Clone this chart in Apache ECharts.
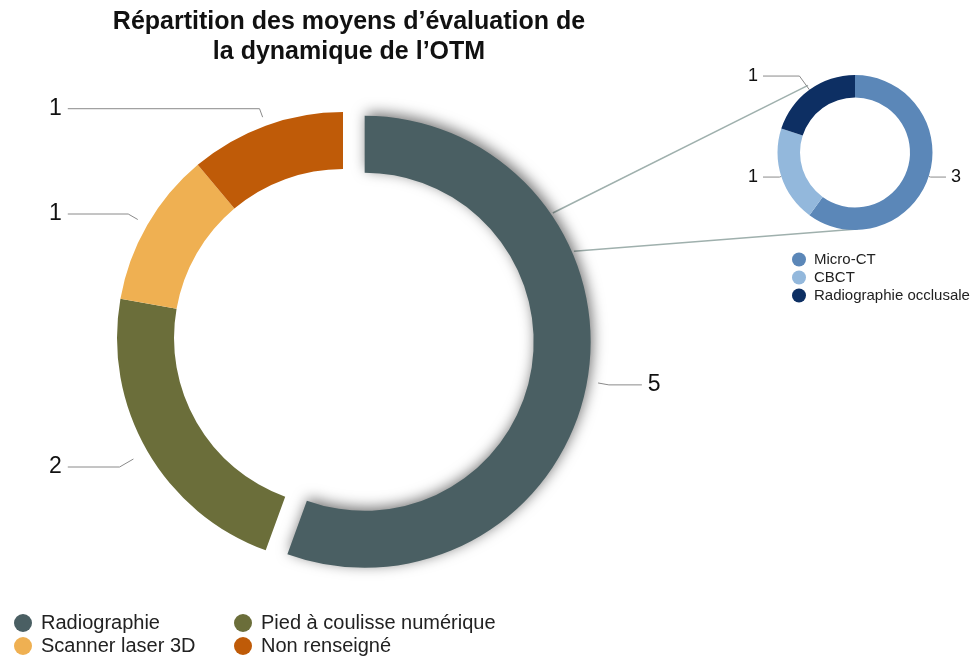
<!DOCTYPE html>
<html>
<head>
<meta charset="utf-8">
<script src="https://cdn.jsdelivr.net/npm/echarts@6/dist/echarts.min.js"></script>
<style>
	html, body { margin: 0; padding: 0; background: #fff; }
	#chart { width: 977px; height: 659px; }
</style>
</head>
<body>
<div id="chart"></div>
<script>
	// données du graphique principal
	const mainNames = ['Radiographie', 'Pied à coulisse numérique', 'Scanner laser 3D', 'Non renseigné']
	const mainValues = [5, 2, 1, 1]
	const mainColors = ['#4a5f63', '#6b6e3a', '#efb052', '#bf5b08']

	// détail de la radiographie
	const subNames = ['Micro-CT', 'CBCT', 'Radiographie occlusale']
	const subValues = [3, 1, 1]
	const subColors = ['#5b87b8', '#93b8dc', '#0d2f63']

	// longueur du premier segment des traits de rappel
	const mainLineLen = [22, 32, 22, 18]
	const subLineLen = [2, 2, 17]

	const font = 'Liberation Sans, Arial, sans-serif'

	// géométrie
	const mainCenter = [343, 338]
	const mainR = [169, 226]
	const explode = 22
	const subCenter = [855, 152.5]
	const subR = [55, 77.5]

	const chart = echarts.init(document.getElementById('chart'))

	// point sur un cercle, angle en degrés depuis midi, sens horaire
	function polar(c, r, deg) {
		const a = deg * Math.PI / 180
		return [c[0] + r * Math.sin(a), c[1] - r * Math.cos(a)]
	}

	// décolle le début du trait de rappel de l'anneau
	function gapLine(k) {
		return function (params) {
			const p = params.labelLinePoints
			if (!p) return
			p[0] = [p[0][0] + (p[1][0] - p[0][0]) * k, p[0][1] + (p[1][1] - p[0][1]) * k]
			return { labelLinePoints: p }
		}
	}

	// centre de la part "Radiographie" décalée
	const midDeg = mainValues[0] / mainValues.reduce((a, b) => a + b, 0) * 180
	const shifted = polar(mainCenter, explode, midDeg)

	const p1 = polar(shifted, mainR[1] + 2, 55.6)
	const p2 = polar(subCenter, subR[1] + 4.5, 325)
	const p3 = polar(shifted, mainR[1] + 2, 66.6)
	const p4 = polar(subCenter, subR[1] - 1, 178)

	const mainBox = { left: 29, width: 630 }
	const subBox = { left: 738, width: 233 }

	const legendText = { fontFamily: font, fontSize: 20, color: '#222', padding: [0, 0, 0, 4] }

	chart.setOption({
		animation: false,
		title: {
			text: 'Répartition des moyens d’évaluation de\nla dynamique de l’OTM',
			left: 344,
			top: 2,
			textAlign: 'center',
			textStyle: {
				fontFamily: font,
				fontSize: 25,
				fontWeight: 'bold',
				lineHeight: 30,
				color: '#111'
			}
		},
		legend: [{
			orient: 'vertical',
			left: 9,
			top: 608,
			height: 50,
			icon: 'circle',
			itemWidth: 18,
			itemHeight: 18,
			itemGap: 3,
			selectedMode: false,
			data: [mainNames[0], mainNames[2]],
			textStyle: legendText
		}, {
			orient: 'vertical',
			left: 229,
			top: 608,
			height: 50,
			icon: 'circle',
			itemWidth: 18,
			itemHeight: 18,
			itemGap: 3,
			selectedMode: false,
			data: [mainNames[1], mainNames[3]],
			textStyle: legendText
		}, {
			orient: 'vertical',
			left: 787,
			top: 247,
			icon: 'circle',
			itemWidth: 14,
			itemHeight: 14,
			itemGap: 3,
			selectedMode: false,
			data: subNames,
			textStyle: { fontFamily: font, fontSize: 15, color: '#222', padding: [0, 0, 0, 3] }
		}],
		graphic: [{
			type: 'line',
			z: 1,
			shape: { x1: p1[0], y1: p1[1], x2: p2[0], y2: p2[1] },
			style: { stroke: '#9fb0ad', lineWidth: 1.5 }
		}, {
			type: 'line',
			z: 1,
			shape: { x1: p3[0], y1: p3[1], x2: p4[0], y2: p4[1] },
			style: { stroke: '#9fb0ad', lineWidth: 1.5 }
		}],
		series: [{
			name: 'Moyens',
			type: 'pie',
			left: mainBox.left,
			width: mainBox.width,
			top: 0,
			height: 659,
			center: [mainCenter[0] - mainBox.left, mainCenter[1]],
			radius: mainR,
			startAngle: 90,
			clockwise: true,
			selectedMode: 'single',
			selectedOffset: explode,
			emphasis: { disabled: true },
			label: {
				show: true,
				formatter: '{c}',
				fontFamily: font,
				fontSize: 23,
				color: '#111',
				overflow: 'none',
				alignTo: 'edge',
				edgeDistance: 20,
				distanceToLabelLine: 6
			},
			labelLine: {
				show: true,
				length: 22,
				length2: 40,
				lineStyle: { color: '#8a8a8a', width: 1 }
			},
			labelLayout: gapLine(0.5),
			data: mainNames.map((n, i) => {
				const item = {
					name: n,
					value: mainValues[i],
					itemStyle: { color: mainColors[i] },
					labelLine: { length: mainLineLen[i] }
				}
				if (i === 0) {
					item.selected = true
					item.itemStyle.shadowBlur = 14
					item.itemStyle.shadowColor = 'rgba(0,0,0,0.55)'
					item.itemStyle.shadowOffsetX = 2
					item.itemStyle.shadowOffsetY = -3
				}
				return item
			})
		}, {
			name: 'Détail radiographie',
			type: 'pie',
			left: subBox.left,
			width: subBox.width,
			top: 0,
			height: 659,
			center: [subCenter[0] - subBox.left, subCenter[1]],
			radius: subR,
			startAngle: 90,
			clockwise: true,
			emphasis: { disabled: true },
			label: {
				show: true,
				formatter: '{c}',
				fontFamily: font,
				fontSize: 18,
				color: '#111',
				overflow: 'none',
				alignTo: 'edge',
				edgeDistance: 10,
				distanceToLabelLine: 5
			},
			labelLine: {
				show: true,
				length: 14,
				length2: 30,
				lineStyle: { color: '#8a8a8a', width: 1 }
			},
			data: subNames.map((n, i) => ({
				name: n,
				value: subValues[i],
				itemStyle: { color: subColors[i] },
				labelLine: { length: subLineLen[i] }
			}))
		}]
	})
</script>
</body>
</html>
